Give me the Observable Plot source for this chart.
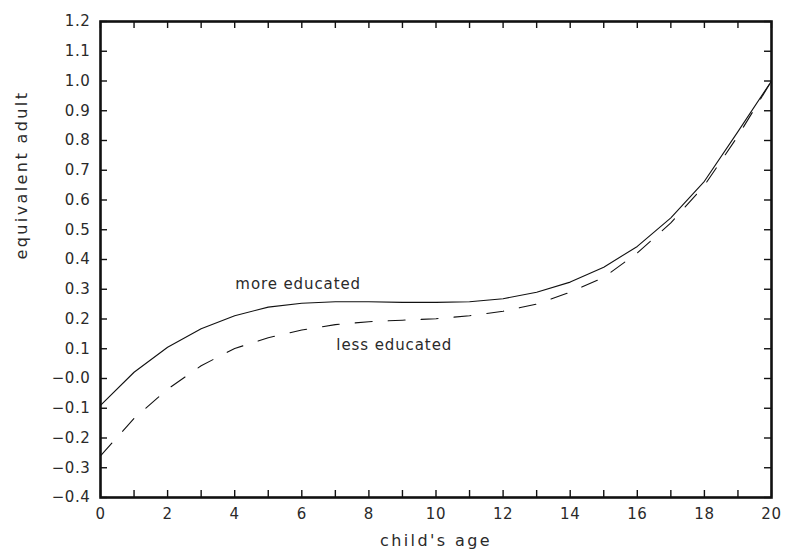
<!DOCTYPE html>
<html>
<head>
<meta charset="utf-8">
<script src="https://cdn.jsdelivr.net/npm/d3@7"></script>
<script src="https://cdn.jsdelivr.net/npm/@observablehq/plot@0.6"></script>
<style>
  html, body { margin: 0; padding: 0; background: #fff; }
</style>
</head>
<body>
<div id="chart"></div>
<script>
// child's age (years)
const ages = [0, 1, 2, 3, 4, 5, 6, 7, 8, 9, 10, 11, 12, 13, 14, 15, 16, 17, 18, 19, 20];
// equivalent adult scale, more educated parents (solid line)
const moreEducated = [-0.090, 0.021, 0.105, 0.167, 0.211, 0.240, 0.253, 0.258, 0.258, 0.256, 0.256, 0.258, 0.268, 0.290, 0.324, 0.374, 0.444, 0.540, 0.663, 0.830, 1.000];
// equivalent adult scale, less educated parents (dashed line)
const lessEducated = [-0.260, -0.134, -0.036, 0.043, 0.101, 0.137, 0.163, 0.181, 0.191, 0.196, 0.201, 0.211, 0.226, 0.250, 0.290, 0.340, 0.422, 0.523, 0.649, 0.815, 1.000];

// tick values
const xTickLabels = [0, 2, 4, 6, 8, 10, 12, 14, 16, 18, 20];
const xTickMarks = [0, 1, 2, 3, 4, 5, 6, 7, 8, 9, 10, 11, 12, 13, 14, 15, 16, 17, 18, 19, 20];
const yTicks = [-0.4, -0.3, -0.2, -0.1, 0.0, 0.1, 0.2, 0.3, 0.4, 0.5, 0.6, 0.7, 0.8, 0.9, 1.0, 1.1, 1.2];

// in-plot series labels
const seriesLabels = ["more educated", "less educated"];
const seriesLabelAge = [4.02, 7.03];
const seriesLabelValue = [0.316, 0.113];

const xTitle = "child's age";
const yTitle = "equivalent adult";

const moreData = ages.map((a, i) => ({age: a, value: moreEducated[i]}));
const lessData = ages.map((a, i) => ({age: a, value: lessEducated[i]}));

const fmtY = v => (v < 0.001 ? "\u2212" : "") + Math.abs(v).toFixed(1);

const ink = "#111";
const textInk = "#2a2a2a";

const W = 785, H = 559, mL = 100, mR = 14, mT = 21, mB = 62;
const plotW = W - mL - mR, plotH = H - mT - mB;
const tickLen = 7;

const chart = Plot.plot({
  width: W,
  height: H,
  marginLeft: mL,
  marginRight: mR,
  marginTop: mT,
  marginBottom: mB,
  x: {domain: [0, 20], axis: null},
  y: {domain: [-0.4, 1.2], axis: null},
  style: {fontFamily: "'DejaVu Sans', sans-serif", fontSize: "15px", color: textInk, background: "#fff"},
  marks: [
    // inward tick marks on all four sides
    Plot.tickX(xTickMarks, {x: d => d, insetTop: plotH - tickLen, stroke: ink, strokeWidth: 1.4}),
    Plot.tickX(xTickMarks, {x: d => d, insetBottom: plotH - tickLen, stroke: ink, strokeWidth: 1.4}),
    Plot.tickY(yTicks, {y: d => d, insetRight: plotW - tickLen, stroke: ink, strokeWidth: 1.4}),
    Plot.tickY(yTicks, {y: d => d, insetLeft: plotW - tickLen, stroke: ink, strokeWidth: 1.4}),
    // tick labels
    Plot.axisX(xTickLabels, {anchor: "bottom", tickSize: 0, tickPadding: 11, label: null, fill: textInk}),
    Plot.axisY(yTicks, {anchor: "left", tickSize: 0, tickPadding: 10, label: null, tickFormat: fmtY, fill: textInk}),
    // series
    Plot.line(moreData, {x: "age", y: "value", stroke: ink, strokeWidth: 1.1}),
    Plot.line(lessData, {x: "age", y: "value", stroke: ink, strokeWidth: 1.1, strokeDasharray: "17,16"}),
    // series labels
    Plot.text(seriesLabels, {x: seriesLabelAge, y: seriesLabelValue, text: d => d, textAnchor: "start", fontSize: 15, fill: textInk}),
    // axis titles
    Plot.text([xTitle], {frameAnchor: "bottom", dy: 48, text: d => d, fontSize: 16, fill: textInk}),
    Plot.text([yTitle], {frameAnchor: "left", dx: -79, rotate: -90, text: d => d, fontSize: 16, fill: textInk}),
    Plot.frame({stroke: ink, strokeWidth: 2.6})
  ]
});

// letter spacing to mimic the wide plotter font
d3.select(chart).selectAll("text").each(function () {
  const t = this.textContent;
  let ls = 0.6;
  if (t === xTitle || t === yTitle) ls = 2.4;
  else if (seriesLabels.includes(t)) ls = 0.9;
  d3.select(this).style("letter-spacing", ls + "px");
});

document.getElementById("chart").appendChild(chart);
</script>
</body>
</html>
